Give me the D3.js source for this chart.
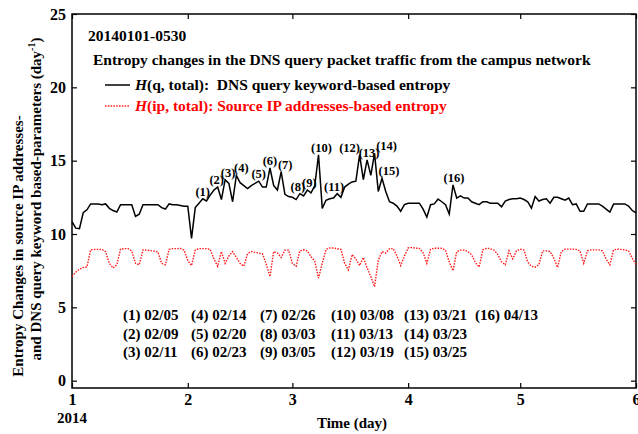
<!DOCTYPE html>
<html>
<head>
<meta charset="utf-8">
<style>
  body { margin:0; background:#fff; }
  svg text { font-family: "Liberation Serif", "Times New Roman", serif; font-weight: bold; }
</style>
</head>
<body>
<div id="chart-area"></div>

<script src="https://d3js.org/d3.v7.min.js"></script>
<script>

    // daily values, 2014-01-01 onwards
    var qEntropy = [
        10.85, 10.4, 10.37, 11.45, 11.65, 12.05, 12.05, 12.05, 12.0, 12.05,
        11.75, 11.6, 11.5, 12.0, 12.0, 12.0, 12.0, 11.2, 11.35, 12.0,
        12.0, 12.0, 12.0, 12.0, 11.8, 11.7, 12.05, 12.0, 12.0, 11.95,
        11.9, 11.9, 9.7, 11.8, 12.1, 12.4, 12.25, 12.65, 13.0, 13.2,
        12.35, 13.7, 13.45, 12.2, 14.0, 13.5, 13.3, 13.1, 13.3, 13.45,
        13.6, 13.2, 13.2, 14.5, 13.3, 13.0, 14.25, 12.7, 12.55, 12.5,
        12.35, 12.75, 12.6, 13.0, 12.8, 13.3, 15.4, 11.75, 12.3, 12.4,
        12.45, 12.75, 12.5, 13.2, 13.4, 13.55, 13.6, 15.4, 13.7, 15.05,
        14.0, 15.5, 12.9, 13.8, 12.9, 12.2, 12.1, 11.9, 11.55, 12.0,
        12.1, 12.1, 12.1, 12.1, 11.7, 11.15, 12.0, 12.05, 12.38, 12.2,
        12.0, 11.36, 13.35, 12.45, 12.6, 12.45, 12.45, 12.2, 12.1, 12.0,
        12.2, 12.2, 12.1, 12.1, 12.1, 11.85, 12.25, 12.35, 12.4, 12.4,
        12.45, 12.35, 12.2, 11.76, 12.55, 12.25, 12.35, 12.4, 12.1, 12.5,
        12.5, 12.4, 12.3, 12.45, 12.0, 12.05, 11.55, 11.55, 12.05, 12.05,
        12.05, 12.05, 11.9, 11.7, 11.5, 12.04, 12.05, 12.05, 12.05, 11.9,
        11.6, 11.45
    ];

    var ipEntropy = [
        7.1, 7.4, 7.6, 7.72, 7.75, 8.92, 8.95, 8.95, 8.95, 8.8,
        8.0, 7.68, 7.9, 8.97, 9.0, 9.0, 8.85, 8.0, 7.9, 8.92,
        8.9, 8.87, 8.83, 8.78, 8.0, 7.9, 8.95, 9.0, 9.0, 9.02,
        8.9, 8.2, 7.85, 8.9, 9.0, 9.0, 9.0, 8.95, 8.3, 7.8,
        8.8, 8.0, 8.5, 8.8, 8.4, 8.0, 7.8, 8.65, 8.8, 8.75,
        8.7, 8.65, 7.95, 7.1, 8.8, 8.7, 8.4, 8.9, 8.9, 8.0,
        7.8, 8.85, 8.92, 8.85, 8.45, 8.15, 7.0, 8.0, 8.95, 9.05,
        9.05, 9.0, 8.95, 8.0, 7.55, 8.6, 8.3, 7.85, 8.4, 7.7,
        7.1, 6.4, 8.2, 8.8, 8.7, 9.0, 9.0, 8.5, 7.85, 8.5,
        9.05, 9.08, 9.04, 9.02, 8.72, 8.0, 8.95, 9.03, 9.03, 9.02,
        8.9, 8.1, 7.5, 8.8, 8.9, 8.9, 8.8, 8.58, 8.05, 7.75,
        8.92, 9.03, 9.0, 8.9, 8.6, 8.1, 7.9, 8.85, 8.3, 8.85,
        8.97, 8.9, 8.1, 7.8, 7.74, 7.9, 8.85, 8.85, 8.8, 8.35,
        7.72, 8.8, 8.97, 8.97, 8.97, 8.95, 8.85, 8.0, 8.85, 8.92,
        8.92, 8.92, 8.85, 8.3, 7.9, 8.92, 8.97, 8.95, 8.92, 8.85,
        8.35, 7.9
    ];

    var monthLabels = ["1", "2", "3", "4", "5", "6"];
    var yTicks = [0, 5, 10, 15, 20, 25];

    // marked peaks (MM/DD) on the keyword entropy line
    var peakDates = ["02/05", "02/09", "02/11", "02/14", "02/20", "02/23", "02/26", "03/03",
                     "03/05", "03/08", "03/13", "03/19", "03/21", "03/23", "03/25", "04/13"];
    // small horizontal nudges so the labels don't collide
    var peakNudge = [0, -1, 3, 5, 0, 0, 4, -2, 2, 3, -3, -10, 2, 12, 7, 1];

    drawChart();

    function drawChart() {
    const width = 638, height = 434;
    const mLeft = 72, mRight = 636, mTop = 14, mBottom = 388;

    const start = new Date(Date.UTC(2014, 0, 1));
    const days = d3.utcDay.range(start, d3.utcDay.offset(start, qEntropy.length));

    const x = d3.scaleUtc()
        .domain([start, new Date(Date.UTC(2014, 5, 1))])
        .range([mLeft, mRight]);
    const y = d3.scaleLinear()
        .domain([-0.5, 25])
        .range([mBottom, mTop]);

    const svg = d3.select("#chart-area")
        .append("svg")
            .attr("width", width)
            .attr("height", height);

    const months = d3.utcMonth.range(start, new Date(Date.UTC(2014, 5, 2)));

    // axes, ticks pointing inward
    const gx = svg.append("g")
        .attr("transform", `translate(0,${mBottom})`)
        .call(d3.axisBottom(x).tickValues(months)
            .tickFormat((d, i) => monthLabels[i])
            .tickSizeInner(-5).tickSizeOuter(0).tickPadding(6));
    const gy = svg.append("g")
        .attr("transform", `translate(${mLeft},0)`)
        .call(d3.axisLeft(y).tickValues(yTicks)
            .tickSizeInner(-5).tickSizeOuter(0).tickPadding(6));
    svg.append("g")
        .attr("transform", `translate(${mRight},0)`)
        .call(d3.axisRight(y).tickValues(yTicks).tickFormat("")
            .tickSizeInner(-5).tickSizeOuter(0));
    svg.append("g")
        .attr("transform", `translate(0,${mTop})`)
        .call(d3.axisTop(x).tickValues(months).tickFormat("")
            .tickSizeInner(-5).tickSizeOuter(0));

    svg.selectAll(".domain").remove();
    svg.selectAll(".tick line").attr("stroke", "#000").attr("stroke-width", 1.2);
    gx.attr("font-size", 16);
    gy.attr("font-size", 16);

    svg.append("rect")
        .attr("x", mLeft).attr("y", mTop)
        .attr("width", mRight - mLeft).attr("height", mBottom - mTop)
        .attr("fill", "none")
        .attr("stroke", "#000")
        .attr("stroke-width", 1.5);

    // lines
    const line = d3.line()
        .x((d, i) => x(days[i]))
        .y(d => y(d));

    svg.append("path")
        .datum(ipEntropy)
        .attr("fill", "none")
        .attr("stroke", "#ff1a1a")
        .attr("stroke-width", 1.4)
        .attr("stroke-dasharray", "1.5,1.3")
        .attr("d", line);

    svg.append("path")
        .datum(qEntropy)
        .attr("fill", "none")
        .attr("stroke", "#000")
        .attr("stroke-width", 1.5)
        .attr("d", line);

    // peak labels
    function parseMD(s) {
        var p = s.split("/");
        return new Date(Date.UTC(2014, +p[0] - 1, +p[1]));
    }
    svg.selectAll(".peak")
        .data(peakDates)
        .enter()
        .append("text")
        .attr("class", "peak")
        .attr("x", (d, i) => x(parseMD(d)) + peakNudge[i])
        .attr("y", function(d) {
            var k = d3.utcDay.count(start, parseMD(d));
            return y(qEntropy[k]) - 3;
        })
        .attr("text-anchor", "middle")
        .attr("font-size", 12.5)
        .text((d, i) => "(" + (i + 1) + ")");

    // date list
    const colX = [123, 191, 260, 331, 404, 475];
    svg.selectAll(".datelist")
        .data(peakDates)
        .enter()
        .append("text")
        .attr("class", "datelist")
        .attr("x", (d, i) => colX[Math.floor(i / 3)])
        .attr("y", (d, i) => 320 + (i % 3) * 18.5)
        .attr("font-size", 15)
        .text((d, i) => "(" + (i + 1) + ") " + d);

    // titles
    svg.append("text")
        .attr("x", 88).attr("y", 41)
        .attr("font-size", 15.5)
        .text("20140101-0530");
    svg.append("text")
        .attr("x", 93).attr("y", 65)
        .attr("font-size", 15.5)
        .text("Entropy changes in the DNS query packet traffic from the campus network");

    // legend
    svg.append("line")
        .attr("x1", 105).attr("x2", 130).attr("y1", 85).attr("y2", 85)
        .attr("stroke", "#000").attr("stroke-width", 1.5);
    const t1 = svg.append("text")
        .attr("x", 135).attr("y", 90)
        .attr("font-size", 15.5)
        .attr("xml:space", "preserve");
    t1.append("tspan").attr("font-style", "italic").text("H");
    t1.append("tspan").text("(q, total):  DNS query keyword-based entropy");

    svg.append("line")
        .attr("x1", 105).attr("x2", 130).attr("y1", 106).attr("y2", 106)
        .attr("stroke", "#ff1a1a").attr("stroke-width", 1.4)
        .attr("stroke-dasharray", "1.5,1.3");
    const t2 = svg.append("text")
        .attr("x", 135).attr("y", 111)
        .attr("font-size", 15.5)
        .attr("fill", "#ff0000");
    t2.append("tspan").attr("font-style", "italic").text("H");
    t2.append("tspan").text("(ip, total): Source IP addresses-based entropy");

    // axis titles
    svg.append("text")
        .attr("x", x(start)).attr("y", 423)
        .attr("text-anchor", "middle")
        .attr("font-size", 15)
        .text("2014");
    svg.append("text")
        .attr("x", 352).attr("y", 428)
        .attr("text-anchor", "middle")
        .attr("font-size", 15)
        .text("Time (day)");

    svg.append("text")
        .attr("transform", "translate(23,246) rotate(-90)")
        .attr("text-anchor", "middle")
        .attr("font-size", 15)
        .text("Entropy Changes in source IP addresses-");
    const yt = svg.append("text")
        .attr("transform", "translate(41,199) rotate(-90)")
        .attr("text-anchor", "middle")
        .attr("font-size", 15);
    yt.append("tspan").text("and DNS query keyword based-parameters (day");
    yt.append("tspan").attr("font-size", 10).attr("dy", -6).text("-1");
    yt.append("tspan").attr("dy", 6).text(")");
    }

</script>
</body>
</html>
